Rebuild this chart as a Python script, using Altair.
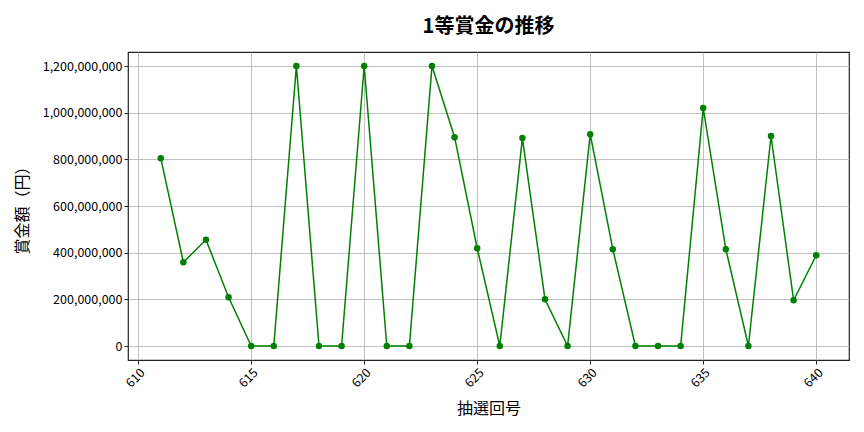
import altair as alt
import pandas as pd

draws = list(range(611, 641))
prizes = [
    805000000, 359000000, 455000000, 209000000, 0, 0, 1200000000, 0, 0, 1200000000,
    0, 0, 1200000000, 895000000, 419000000, 0, 891000000, 200000000, 0, 908000000,
    415000000, 0, 0, 0, 1020000000, 415000000, 0, 900000000, 196000000, 389000000,
]
x_ticks = [610, 615, 620, 625, 630, 635, 640]
y_ticks = [0, 200000000, 400000000, 600000000, 800000000, 1000000000, 1200000000]

df = pd.DataFrame({"draw": draws, "prize": prizes})
FONT = "Noto Sans CJK JP"

base = alt.Chart(df).encode(
    x=alt.X("draw:Q",
            scale=alt.Scale(domain=[609.55, 641.45], nice=False, zero=False),
            axis=alt.Axis(values=x_ticks, title="抽選回号", labelAngle=-45,
                          format="d", titleY=48, titleBaseline="middle")),
    y=alt.Y("prize:Q",
            scale=alt.Scale(domain=[-60000000, 1260000000], nice=False, zero=False),
            axis=alt.Axis(values=y_ticks, title="賞金額（円）", format=",d",
                          titleX=-98)),
)

line = base.mark_line(color="#008000", strokeWidth=1.5)
pts = base.mark_circle(color="#008000", size=42, opacity=1)

chart = (line + pts).properties(
    width=721, height=308,
    title=alt.TitleParams("1等賞金の推移", fontSize=20, font=FONT, fontWeight="bold",
                          anchor="middle", offset=15, color="#000000"),
    autosize=alt.AutoSizeParams(type="none"),
    padding={"left": 120, "top": 44, "right": 7, "bottom": 64},
).configure_view(
    stroke="#222222", strokeWidth=1.2
).configure_axis(
    labelFont=FONT, titleFont=FONT, labelFontSize=12.5, titleFontSize=16,
    titleFontWeight="normal", labelColor="#000000", titleColor="#000000",
    grid=True, gridColor="#b0b0b0", gridWidth=0.8,
    domain=False, ticks=True, tickColor="#222222", tickSize=4,
    labelPadding=2,
)

chart.save("out.html", embed_options={"renderer": "svg", "actions": False})
